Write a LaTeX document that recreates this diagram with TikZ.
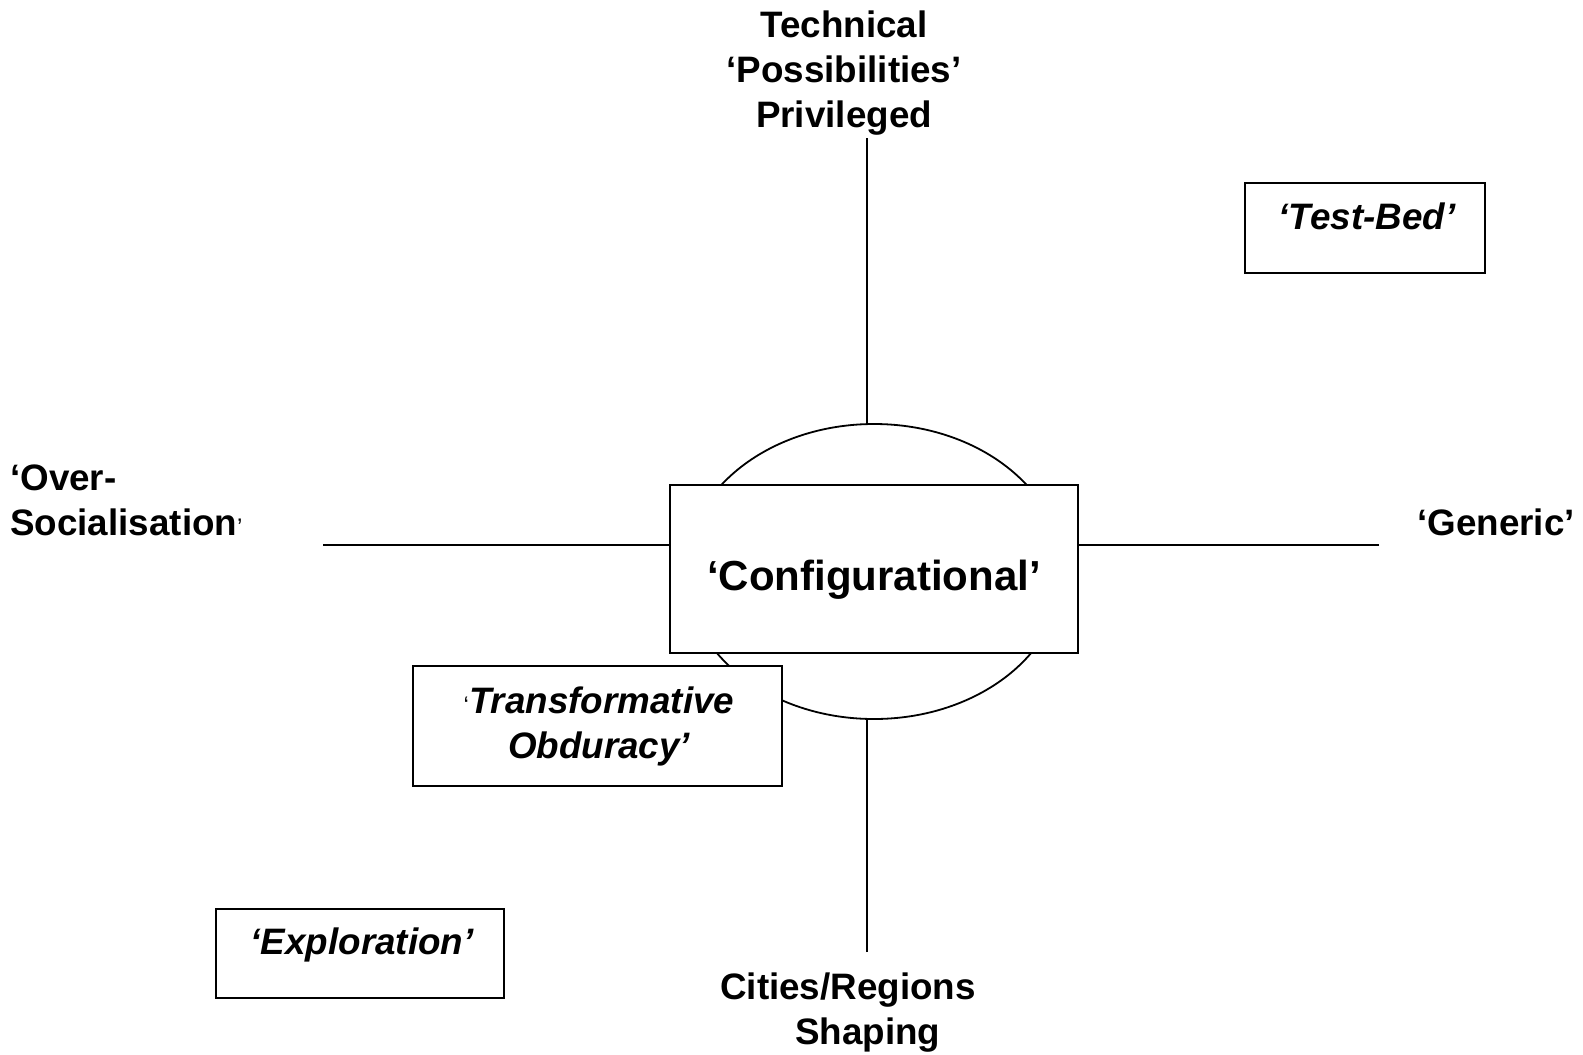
\documentclass[tikz,border=0pt]{standalone}
\usepackage{fontspec}
\setmainfont{Liberation Sans}
\usetikzlibrary{shapes.geometric}
\begin{document}
\begin{tikzpicture}[x=1bp,y=-1bp,
  ln/.style={line width=1.8bp},
  lab/.style={inner sep=0pt, anchor=base, font=\fontsize{36.8bp}{45bp}\selectfont\bfseries, align=center},
  itlab/.style={lab, font=\fontsize{36.8bp}{45bp}\selectfont\bfseries\itshape},
  bx/.style={draw, ln, fill=white, inner sep=0pt, rectangle}]
\useasboundingbox (0,0) rectangle (1583,1054);
% central ellipse and box
\node[ellipse, draw, ln, minimum width=377bp, minimum height=295bp, inner sep=0pt] (ell) at (874,571.5) {};
% axis end points
\coordinate (topend) at (867,138);
\coordinate (botend) at (867,952);
\coordinate (leftend) at (323,545);
\coordinate (rightend) at (1379,545);
\draw[ln] (topend) -- (topend |- ell.north);
\draw[ln] (botend) -- (botend |- ell.south);
\node[bx, minimum width=408bp, minimum height=168bp] (cfg) at (874,569) {};
\draw[ln] (leftend) -- (leftend -| cfg.west);
\draw[ln] (rightend) -- (rightend -| cfg.east);
\node[lab, font=\fontsize{42bp}{50bp}\selectfont\bfseries] (cfgt) at (874,590) {‘Configurational’};
% axis labels
\node[lab] (top) at (844,127) {Technical\\‘Possibilities’\\Privileged};
\node[lab, anchor=base west, align=left] (left) at (10,535) {‘Over-\\Socialisation{\fontsize{24bp}{24bp}\selectfont\mdseries’}};
\node[lab, anchor=base west] (right) at (1417,535) {‘Generic’};
\node[lab, align=left, anchor=base west] (bottom) at (720,1044) {Cities/Regions\\\hspace*{75bp}Shaping};
% quadrant boxes
\node[bx, minimum width=240bp, minimum height=90bp] (tb) at (1365,228) {};
\node[itlab] (tbt) at (1367,229) {‘Test-Bed’};
\node[bx, minimum width=369bp, minimum height=120bp] (to) at (597.5,726) {};
\node[itlab] (tot) at (599,758) {{\fontsize{24bp}{24bp}\selectfont\mdseries\upshape‘}Transformative\\Obduracy’};
\node[bx, minimum width=288bp, minimum height=89bp] (ex) at (360,953.5) {};
\node[itlab] (ext) at (362,954) {‘Exploration’};
\end{tikzpicture}
\end{document}
